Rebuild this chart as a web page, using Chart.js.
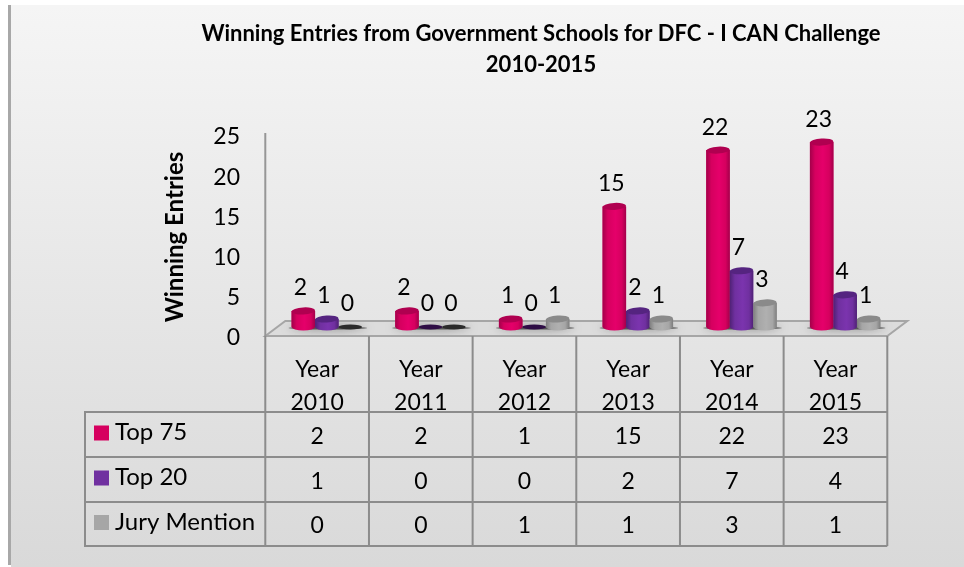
<!DOCTYPE html>
<html><head><meta charset="utf-8">
<style>html,body{margin:0;padding:0;background:#fff}canvas{display:block}</style>
<script src="https://cdn.jsdelivr.net/npm/chart.js@4"></script>
</head><body><canvas id="c" width="964" height="567"></canvas>
<script>
const years = ["2010","2011","2012","2013","2014","2015"];
const top75 = [2,2,1,15,22,23];
const top20 = [1,0,0,2,7,4];
const jury = [0,0,1,1,3,1];
const seriesNames = ["Top 75","Top 20","Jury Mention"];
const seriesValues = [top75, top20, jury];
const yTicks = [0,5,10,15,20,25];
const titleLines = ["Winning Entries from Government Schools for DFC - I CAN Challenge","2010-2015"];
const yTitle = "Winning Entries";
const FONT = "Lato";
const palette = [
  {base:"#d6005f", edge:"#a3004a", mid:"#e5006a", top:"#b00050", zero:"#70002f"},
  {base:"#7030a0", edge:"#4f2175", mid:"#7b34ae", top:"#552480", zero:"#2e0d45"},
  {base:"#a6a6a6", edge:"#7e7e7e", mid:"#b0b0b0", top:"#8a8a8a", zero:"#2b2b2b"}
];
const GRID = "#8c8c8c";
const skew = -9.7;

const cylinders = {
  id:"cylinders",
  beforeDraw(chart){
    const c = chart.ctx, W = chart.width, H = chart.height;
    c.save();
    c.fillStyle = "#fff"; c.fillRect(0,0,W,H);
    const g = c.createLinearGradient(0,5,0,H);
    g.addColorStop(0,"#f5f5f5"); g.addColorStop(1,"#d9d9d9");
    c.fillStyle = g; c.fillRect(11,5,W-11,H-5);
    c.fillStyle = "#a8a8a8"; c.fillRect(8,5,3,H-7);
    c.restore();
  },
  beforeDatasetsDraw(chart){
    const c = chart.ctx, x = chart.scales.x, y = chart.scales.y;
    const step = x.width/years.length;
    const x0 = x.left + skew, x1 = x.right + skew;
    const front = y.bottom + 9, back = y.bottom - 6, dx = 20;
    c.save();
    c.beginPath();
    c.moveTo(x0,front); c.lineTo(x0+dx,back); c.lineTo(x1+dx,back); c.lineTo(x1,front); c.closePath();
    c.fillStyle = "#dcdcdc"; c.fill();
    c.save(); c.clip();
    years.forEach((_,i)=>{
      c.save();
      c.shadowColor = "rgba(0,0,0,0.6)"; c.shadowBlur = 8;
      c.fillStyle = "#555";
      c.beginPath();
      c.ellipse(x.getPixelForTick(i)+1,y.bottom+1,step*0.38,1.5,0,0,Math.PI*2);
      c.fill();
      c.restore();
    });
    c.restore();
    c.strokeStyle = "#a6a6a6"; c.lineWidth = 2;
    c.beginPath();
    c.moveTo(x0,front); c.lineTo(x0+dx,back); c.lineTo(x1+dx,back); c.lineTo(x1,front); c.closePath();
    c.stroke();
    c.strokeStyle = "#969696";
    c.beginPath(); c.moveTo(x0,front); c.lineTo(x0,y.getPixelForValue(25)+7); c.stroke();
    c.restore();
  },
  afterDatasetsDraw(chart){
    const c = chart.ctx, x = chart.scales.x, y = chart.scales.y;
    const step = x.width/years.length;
    c.save();
    seriesValues.forEach((vals,s)=>{
      const meta = chart.getDatasetMeta(s), p = palette[s];
      meta.data.forEach((b,i)=>{
        const hw = b.width/2, rx = hw;
        if(vals[i]===0){
          c.fillStyle = p.zero;
          c.beginPath(); c.ellipse(b.x,b.base,rx,2.5,0,0,Math.PI*2); c.fill();
          return;
        }
        const g = c.createLinearGradient(b.x-hw,0,b.x+hw,0);
        g.addColorStop(0,p.edge); g.addColorStop(0.22,p.base); g.addColorStop(0.55,p.mid);
        g.addColorStop(0.82,p.base); g.addColorStop(1,p.edge);
        c.fillStyle = g;
        c.beginPath();
        c.moveTo(b.x-hw,b.y);
        c.lineTo(b.x-hw,b.base);
        c.ellipse(b.x,b.base,rx,3.5,0,Math.PI,0,true);
        c.lineTo(b.x+hw,b.y);
        c.closePath(); c.fill();
        c.fillStyle = p.top;
        c.beginPath(); c.ellipse(b.x,b.y,rx,3.5,-0.06,0,Math.PI*2); c.fill();
      });
    });
    c.fillStyle = "#000"; c.font = "23px "+FONT; c.textAlign = "center"; c.textBaseline = "middle";
    seriesValues.forEach((vals,s)=>{
      chart.getDatasetMeta(s).data.forEach((b,i)=>{
        c.fillText(String(vals[i]), b.x-3, b.y-23);
      });
    });
    c.save();
    c.translate(175, 237); c.rotate(-Math.PI/2);
    c.font = "bold 24px "+FONT;
    c.fillText(yTitle,0,0);
    c.restore();
    const colX = i => x.left + skew + step*i;
    const rowY = [412,457,502,546];
    const left = 85;
    c.strokeStyle = GRID; c.lineWidth = 2;
    c.beginPath();
    for(let i=0;i<=years.length;i++){ c.moveTo(colX(i),y.bottom+9); c.lineTo(colX(i),rowY[3]); }
    rowY.forEach(r=>{ c.moveTo(left,r); c.lineTo(colX(years.length),r); });
    c.moveTo(left,rowY[0]-1); c.lineTo(left,rowY[3]+1);
    c.stroke();
    seriesNames.forEach((name,s)=>{
      const cy = (rowY[s]+rowY[s+1])/2;
      c.fillStyle = palette[s].base;
      c.fillRect(94,cy-9,15,15);
      c.fillStyle = "#000"; c.textAlign = "left"; c.font = "24px "+FONT;
      c.fillText(name,115,cy-2);
      c.textAlign = "center"; c.font = "23px "+FONT;
      seriesValues[s].forEach((v,i)=>{ c.fillText(String(v),colX(i)+step/2,cy+2); });
    });
    c.restore();
  }
};

new Chart(document.getElementById("c"),{
  type:"bar",
  data:{
    labels: years.map(y=>["Year",y]),
    datasets: seriesNames.map((n,s)=>({label:n,data:seriesValues[s],backgroundColor:palette[s].base,borderWidth:0}))
  },
  options:{
    responsive:false, animation:false, devicePixelRatio:1,
    layout:{padding:{left:185,right:67,top:0,bottom:0}},
    datasets:{bar:{categoryPercentage:0.68,barPercentage:1}},
    plugins:{
      legend:{display:false}, tooltip:{enabled:false},
      title:{display:true,text:titleLines,color:"#000",
        font:{family:FONT,size:22,weight:"bold",lineHeight:1.4},
        padding:{top:19,bottom:45.4}}
    },
    scales:{
      x:{
        grid:{display:false,drawTicks:false}, border:{display:false},
        ticks:{color:"#000",font:{family:FONT,size:23,lineHeight:1.43},padding:26,labelOffset:skew,autoSkip:false,maxRotation:0,minRotation:0},
        afterFit(s){s.height=240;}
      },
      y:{
        min:0,max:25,
        grid:{display:false,drawTicks:false}, border:{display:false},
        afterBuildTicks(s){s.ticks=yTicks.map(v=>({value:v}));},
        ticks:{color:"#000",font:{family:FONT,size:23},padding:35,labelOffset:11},
        afterFit(s){s.width=90;}
      }
    }
  },
  plugins:[cylinders]
});
</script></body></html>
